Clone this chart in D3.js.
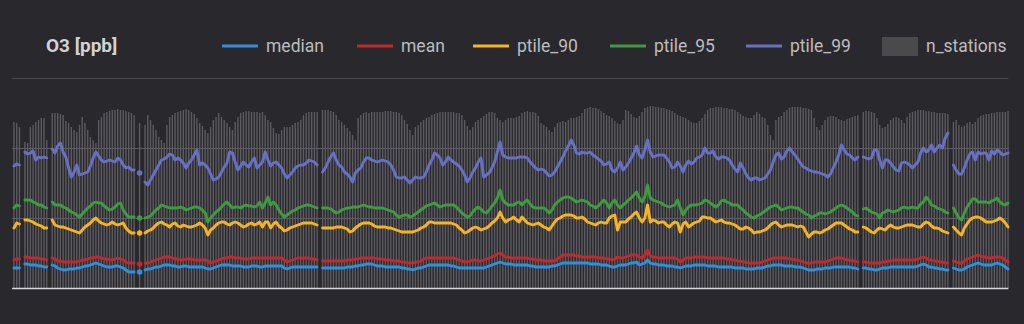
<!DOCTYPE html>
<html>
<head>
<meta charset="utf-8">
<script src="https://cdn.jsdelivr.net/npm/d3@7"></script>
<style>
  html, body { margin: 0; padding: 0; background: #29282d; }
  svg { display: block; }
</style>
</head>
<body>
<svg id="chart" width="1024" height="324"></svg>
<script>
// Daily O3 statistics over all stations (ppb); null = no data that day.
const _ = null;

const ptile_99 = [
  122,124,123,_,
  136,134,135,137,128,131,130,131,130,_,
  139,135,142,145,136,131,120,111,116,123,113,114,115,116,122,130,136,132,128,126,127,128,127,126,130,128,123,120,121,118,118,_,
  115,_,
  106,103,108,113,118,123,128,129,131,134,
  133,128,130,128,125,120,125,128,133,138,
  123,125,123,120,114,108,109,111,116,121,
  125,136,135,126,118,122,126,123,121,126,
  130,120,123,126,136,128,122,125,126,123,
  120,114,110,113,116,120,122,123,123,125,
  128,127,126,123,_,
  116,120,126,131,135,128,123,121,116,114,
  111,106,115,118,120,126,130,130,128,127,
  126,127,128,127,126,123,118,111,110,110,
  111,108,105,108,111,110,110,111,116,123,
  128,135,133,130,123,126,131,128,126,124,
  122,118,113,106,110,116,120,126,130,111,
  113,115,120,126,136,146,133,131,130,130,
  130,130,131,131,131,130,126,123,120,118,
  119,118,115,112,113,116,121,126,131,137,
  142,148,143,135,134,136,135,135,136,133,
  131,129,127,123,124,126,118,116,120,126,
  118,121,125,130,135,142,133,130,138,148,
  136,131,132,133,133,133,130,126,120,121,
  126,122,116,123,127,124,126,130,131,133,
  140,135,135,137,131,129,131,131,130,128,
  123,119,116,125,120,114,110,108,110,110,
  108,109,110,114,118,126,133,135,129,131,
  137,140,136,133,129,125,121,120,118,117,
  116,116,115,114,113,111,114,120,126,133,
  143,138,134,133,130,128,131,_,
  131,130,129,130,138,138,128,120,128,128,125,121,118,117,125,126,125,123,120,123,126,135,140,136,138,143,136,140,143,140,150,155,_,
  123,118,114,114,120,128,134,136,128,136,134,135,135,128,137,134,138,136,133,134,135
];

const ptile_95 = [
  80,83,82,_,
  88,88,88,86,85,83,83,81,80,_,
  86,83,83,83,81,80,78,76,75,73,71,74,77,80,82,85,86,85,85,82,80,78,79,81,84,85,78,74,71,71,71,_,
  70,_,
  70,71,72,75,78,80,83,82,81,80,
  80,80,80,81,80,78,79,80,81,81,
  80,78,75,66,70,73,76,78,81,84,
  86,83,80,81,81,80,82,83,82,82,
  81,82,86,80,85,91,83,86,83,78,
  74,71,73,75,77,78,80,81,82,83,
  83,82,81,80,_,
  80,80,80,79,77,75,76,78,79,80,
  80,81,81,81,82,83,82,81,81,80,
  80,80,80,79,78,77,76,73,71,72,
  73,73,71,72,74,76,78,80,82,83,
  84,85,83,81,82,83,83,83,83,81,
  78,75,73,71,72,76,79,81,79,76,
  75,78,82,85,90,98,88,85,83,83,
  83,85,86,83,86,88,84,81,80,80,
  80,80,78,75,78,83,86,88,90,91,
  91,90,88,86,87,88,87,86,83,82,
  80,82,85,88,85,80,85,88,83,80,
  83,85,88,90,93,96,90,86,91,103,
  90,88,87,86,85,83,82,81,82,83,
  88,80,73,78,81,83,83,83,84,85,
  88,87,85,83,81,83,87,88,86,85,
  83,83,83,80,78,75,73,71,70,72,
  73,75,77,79,81,82,83,81,78,79,
  80,81,81,80,80,78,76,74,73,70,
  72,73,75,75,74,75,76,78,80,82,
  83,82,80,78,76,73,72,_,
  79,80,78,76,75,74,70,75,76,78,77,76,77,78,80,81,80,80,81,80,80,84,86,91,88,83,82,80,79,78,76,75,_,
  80,75,70,68,75,81,85,89,89,86,86,86,86,85,87,88,90,86,84,83,85
];

const ptile_90 = [
  60,65,64,_,
  68,68,67,66,64,63,62,60,60,_,
  68,63,62,61,61,60,59,58,57,56,55,58,61,63,65,68,70,67,65,64,63,64,66,64,63,64,65,60,57,55,55,_,
  55,_,
  55,57,58,60,63,65,66,64,63,61,
  64,65,62,61,63,62,61,61,62,63,
  65,63,60,53,58,60,63,65,66,66,
  64,63,65,66,65,63,61,62,64,65,
  63,64,66,61,66,66,60,64,66,62,
  60,57,58,60,61,62,63,64,65,65,
  65,65,64,63,_,
  60,60,60,60,60,61,61,61,60,59,
  56,57,60,62,64,65,65,65,64,62,
  61,61,61,61,60,60,59,58,57,56,
  56,56,56,56,57,58,60,61,63,66,
  66,65,65,65,65,65,65,65,64,63,
  60,58,55,56,58,60,61,60,58,59,
  60,62,65,67,70,76,70,66,68,69,
  71,68,66,71,68,65,64,63,64,65,
  63,61,60,58,62,66,69,70,72,73,
  73,73,72,70,70,71,69,66,65,64,
  63,65,66,65,65,70,72,73,58,66,
  66,66,69,71,74,76,70,66,70,83,
  66,68,67,65,66,66,63,61,64,66,
  65,56,64,66,61,63,65,66,67,71,
  71,70,70,68,66,67,68,66,65,65,
  64,63,61,59,59,61,60,58,55,56,
  56,57,58,60,63,65,66,63,61,62,
  63,63,63,62,61,62,61,56,51,54,
  56,56,55,56,58,59,61,63,65,65,
  65,63,61,59,58,56,56,_,
  61,60,58,56,55,58,60,59,58,61,63,61,60,60,61,62,63,63,63,62,61,61,64,66,65,62,60,60,59,57,56,55,_,
  61,58,55,53,60,64,68,70,71,71,70,68,66,66,66,67,68,70,68,65,61
];

const mean = [
  28,29,29,_,
  31,31,30,30,30,30,29,29,28,_,
  30,29,27,27,26,26,26,26,26,26,27,28,28,29,30,30,31,31,30,29,29,28,28,29,30,29,28,26,25,25,25,_,
  24,_,
  25,25,26,27,28,29,30,31,31,31,
  30,29,29,28,28,29,29,29,28,28,
  28,28,28,27,25,26,27,28,29,30,
  30,31,31,30,30,30,29,29,29,30,
  30,30,30,30,30,30,30,30,30,30,
  30,28,26,27,28,29,30,30,30,30,
  30,29,29,28,_,
  27,27,27,27,27,27,27,27,27,28,
  28,28,29,29,30,30,30,30,30,30,
  29,29,29,28,28,28,27,27,27,26,
  26,25,25,25,26,26,27,29,30,30,
  30,30,30,30,30,30,30,30,30,29,
  28,27,26,26,27,28,28,27,27,28,
  29,30,31,32,34,35,33,31,31,30,
  30,30,30,30,30,30,29,29,28,28,
  28,27,27,27,27,27,29,31,33,33,
  33,33,33,32,32,31,31,31,31,31,
  31,30,30,30,29,29,28,29,31,30,
  30,31,32,33,33,33,31,30,33,38,
  32,31,31,30,30,30,30,30,30,30,
  29,26,28,30,30,30,31,31,31,31,
  31,30,30,30,30,30,30,30,29,29,
  28,28,27,27,26,26,25,25,25,25,
  25,26,27,28,29,30,30,30,30,30,
  30,29,29,28,28,27,26,25,25,25,
  26,26,26,26,26,27,28,29,30,30,
  30,29,28,28,27,27,26,_,
  26,26,25,25,25,25,25,26,26,27,27,28,28,28,28,28,28,28,28,28,29,30,31,30,28,28,27,27,26,26,25,25,_,
  27,26,25,25,27,29,30,31,32,33,32,31,31,30,30,31,31,31,30,28,26
];

const median = [
  20,20,20,_,
  24,24,23,23,23,22,22,21,21,_,
  23,22,20,19,18,18,19,19,19,20,20,21,22,22,23,24,25,24,23,22,21,21,21,22,22,21,20,18,16,16,16,_,
  16,_,
  18,19,19,20,21,21,22,23,23,23,
  22,22,21,21,22,22,21,21,21,21,
  21,21,20,19,19,20,21,22,23,23,
  23,23,22,22,22,22,21,21,21,22,
  22,22,21,21,22,22,22,22,22,22,
  22,20,19,20,21,21,21,21,21,21,
  21,21,21,21,_,
  20,20,20,20,20,20,20,20,20,21,
  21,21,22,22,23,23,24,24,24,23,
  22,22,22,21,21,21,21,21,21,20,
  20,19,19,18,19,20,20,21,22,23,
  23,23,23,23,23,23,23,22,22,21,
  20,20,20,20,20,20,20,20,20,20,
  21,22,23,24,25,26,25,24,24,24,
  23,23,23,23,23,23,22,22,21,21,
  21,21,21,21,22,22,23,24,25,25,
  25,25,25,25,25,25,25,25,24,24,
  24,24,23,23,23,22,21,21,22,23,
  23,23,24,25,25,26,23,24,25,28,
  25,24,24,23,23,23,22,22,22,21,
  21,20,21,22,22,22,23,23,23,23,
  23,22,22,22,22,21,21,21,21,21,
  21,20,20,20,20,19,19,19,19,20,
  20,20,21,22,22,23,23,23,23,22,
  22,22,22,21,21,21,20,19,18,18,
  18,19,19,19,20,20,20,21,21,21,
  21,21,21,21,20,20,19,_,
  20,20,19,19,18,18,19,20,20,20,21,21,21,21,21,21,21,21,21,21,22,23,24,23,21,21,20,20,19,19,18,18,_,
  20,19,18,18,19,21,22,23,24,25,24,23,23,23,23,24,25,24,23,21,19
];

const n_stations = [
  166,165,161,_,
  146,145,161,163,166,168,170,170,148,_,
  175,175,175,174,173,167,165,161,158,156,163,171,165,158,151,148,145,168,171,175,176,177,178,178,179,178,178,177,176,175,173,_,
  165,_,
  163,173,168,163,158,151,148,145,163,171,
  173,175,176,177,178,179,178,176,174,170,
  165,162,158,155,161,168,171,175,171,168,
  165,161,158,166,171,175,176,177,177,176,
  176,176,175,176,173,168,166,160,155,154,
  158,161,161,161,163,165,166,168,173,175,
  176,176,176,176,_,
  178,178,178,177,176,173,168,166,163,160,
  157,153,148,170,173,175,176,175,176,176,
  176,176,176,177,177,177,176,176,175,173,
  168,164,158,153,161,163,166,168,170,171,
  173,174,175,176,176,176,176,176,176,175,
  175,173,168,162,158,161,166,168,170,172,
  174,176,176,175,170,168,166,168,170,170,
  170,171,172,175,176,177,176,176,175,172,
  165,163,161,158,156,161,165,166,167,166,
  168,170,170,171,172,175,179,180,181,180,
  180,179,177,175,173,172,170,167,165,164,
  168,178,177,174,171,170,172,176,180,181,
  182,182,181,181,180,180,179,178,177,175,
  173,172,171,170,168,166,165,165,167,170,
  174,178,180,180,181,181,181,180,180,179,
  179,178,176,174,172,171,170,170,173,176,
  174,171,170,163,153,148,168,171,172,176,
  178,180,181,181,181,181,180,180,179,178,
  170,161,158,163,168,171,172,172,171,169,
  168,167,169,170,171,172,173,_,
  176,177,177,176,175,170,163,160,161,164,168,170,171,170,168,165,171,175,176,177,178,178,178,177,177,176,176,175,175,175,175,174,_,
  166,168,163,161,162,165,166,164,166,170,172,173,174,174,175,175,176,176,176,176,177
];

// One category per day of 2023
const days = d3.timeDay.range(new Date(2023, 0, 1), new Date(2024, 0, 1));
const gridValues = [70, 140, 210];
const valueMax = 210;

const seriesDefs = [
  { name: "median",    values: median,   color: "#2f8fdc" },
  { name: "mean",      values: mean,     color: "#c3282d" },
  { name: "ptile_90",  values: ptile_90, color: "#f7b51d" },
  { name: "ptile_95",  values: ptile_95, color: "#3f9b3f" },
  { name: "ptile_99",  values: ptile_99, color: "#6870c6" }
];
const barColor = "#5c5c60";

const svg = d3.select("#chart");
const plotLeft = 12.6, plotRight = 1009.4, plotTop = 78, plotBottom = 288;

const x = d3.scaleBand()
  .domain(d3.range(days.length))
  .range([plotLeft, plotRight])
  .paddingInner(0.5)
  .paddingOuter(0.25);
const cx = i => x(i) + x.bandwidth() / 2;

const y = d3.scaleLinear().domain([0, valueMax]).range([plotBottom, plotTop]);
const yBars = d3.scaleLinear().domain([0, valueMax]).range([plotBottom, plotTop]);

// Station-count bars
svg.append("g")
  .selectAll("rect")
  .data(n_stations.map((v, i) => ({ v, i })).filter(d => d.v != null))
  .join("rect")
  .attr("x", d => x(d.i))
  .attr("width", x.bandwidth())
  .attr("y", d => yBars(d.v))
  .attr("height", d => yBars(0) - yBars(d.v))
  .attr("fill", barColor);

// Horizontal grid
svg.append("g")
  .selectAll("line")
  .data(gridValues)
  .join("line")
  .attr("x1", plotLeft - 0.5)
  .attr("x2", plotRight - 1)
  .attr("y1", d => Math.round(y(d)) + 0.5)
  .attr("y2", d => Math.round(y(d)) + 0.5)
  .attr("stroke", d => d === valueMax ? "#4c4b50" : "#5e5e62")
  .attr("stroke-width", 1);

// Statistic lines
const line = d3.line()
  .defined(d => d != null)
  .x((d, i) => cx(i))
  .y(d => y(d));

const lines = svg.append("g");
seriesDefs.slice().reverse().forEach(s => {
  lines.append("path")
    .attr("d", line(s.values))
    .attr("fill", "none")
    .attr("stroke", s.color)
    .attr("stroke-width", 2.9)
    .attr("stroke-linejoin", "round")
    .attr("stroke-linecap", "round");
  // isolated days get a dot
  const lone = s.values
    .map((v, i) => ({ v, i }))
    .filter(d => d.v != null && s.values[d.i - 1] == null && s.values[d.i + 1] == null);
  lines.selectAll(null)
    .data(lone)
    .join("circle")
    .attr("cx", d => cx(d.i))
    .attr("cy", d => y(d.v))
    .attr("r", 2.8)
    .attr("fill", s.color);
});

// Baseline
svg.append("line")
  .attr("x1", plotLeft - 0.5).attr("x2", plotRight - 1)
  .attr("y1", plotBottom + 0.5).attr("y2", plotBottom + 0.5)
  .attr("stroke", "#d9d9d9").attr("stroke-width", 1.5);

// Title
svg.append("text")
  .attr("x", 46).attr("y", 52)
  .attr("font-family", "Roboto, 'Noto Sans', sans-serif")
  .attr("font-size", 19).attr("font-weight", 700)
  .attr("fill", "#d2d2d2")
  .text("O3 [ppb]");

// Legend
const legendItems = seriesDefs.map(s => ({ name: s.name, color: s.color, kind: "line" }))
  .concat([{ name: "n_stations", color: "#4a4a4c", kind: "box" }]);
const legendX = [222, 357, 473, 610, 746, 882];
const legend = svg.append("g")
  .attr("font-family", "Roboto, 'Noto Sans', sans-serif")
  .attr("font-size", 17.5)
  .attr("fill", "#bdbdbd");
legendItems.forEach((d, k) => {
  const g = legend.append("g").attr("transform", `translate(${legendX[k]},0)`);
  if (d.kind === "line") {
    g.append("line").attr("x1", 0).attr("x2", 36).attr("y1", 46).attr("y2", 46)
      .attr("stroke", d.color).attr("stroke-width", 3);
  } else {
    g.append("rect").attr("x", 0).attr("y", 37).attr("width", 36).attr("height", 19)
      .attr("fill", d.color);
  }
  g.append("text").attr("x", 44).attr("y", 52).text(d.name);
});
</script>
</body>
</html>
